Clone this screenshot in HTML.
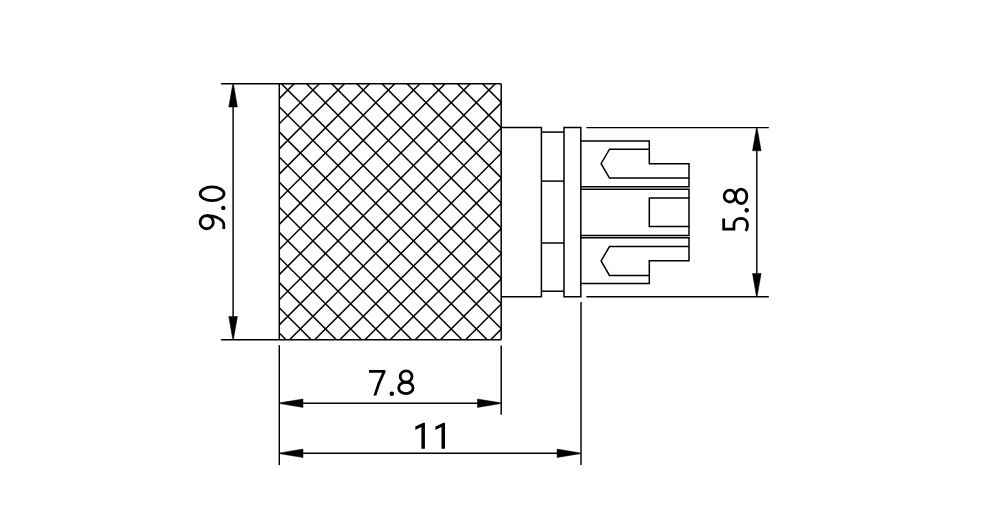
<!DOCTYPE html>
<html><head><meta charset="utf-8"><style>
html,body{margin:0;padding:0;background:#fff;width:984px;height:526px;overflow:hidden}
svg{display:block}
</style></head><body>
<svg width="984" height="526" viewBox="0 0 984 526">
<defs><clipPath id="k"><rect x="279.3" y="83.75" width="221.9" height="255.95"/></clipPath></defs>
<g clip-path="url(#k)" stroke="#000" stroke-width="1.5" fill="none">
<line x1="25.05" y1="78.75" x2="291" y2="344.7"/>
<line x1="50.19" y1="78.75" x2="316.14" y2="344.7"/>
<line x1="75.33" y1="78.75" x2="341.28" y2="344.7"/>
<line x1="100.47" y1="78.75" x2="366.42" y2="344.7"/>
<line x1="125.61" y1="78.75" x2="391.56" y2="344.7"/>
<line x1="150.75" y1="78.75" x2="416.7" y2="344.7"/>
<line x1="175.89" y1="78.75" x2="441.84" y2="344.7"/>
<line x1="201.03" y1="78.75" x2="466.98" y2="344.7"/>
<line x1="226.17" y1="78.75" x2="492.12" y2="344.7"/>
<line x1="251.31" y1="78.75" x2="517.26" y2="344.7"/>
<line x1="276.45" y1="78.75" x2="542.4" y2="344.7"/>
<line x1="301.59" y1="78.75" x2="567.54" y2="344.7"/>
<line x1="326.73" y1="78.75" x2="592.68" y2="344.7"/>
<line x1="351.87" y1="78.75" x2="617.82" y2="344.7"/>
<line x1="377.01" y1="78.75" x2="642.96" y2="344.7"/>
<line x1="402.15" y1="78.75" x2="668.1" y2="344.7"/>
<line x1="427.29" y1="78.75" x2="693.24" y2="344.7"/>
<line x1="452.43" y1="78.75" x2="718.38" y2="344.7"/>
<line x1="477.57" y1="78.75" x2="743.52" y2="344.7"/>
<line x1="502.71" y1="78.75" x2="768.66" y2="344.7"/>
<line x1="299.15" y1="78.75" x2="33.2" y2="344.7"/>
<line x1="324.29" y1="78.75" x2="58.34" y2="344.7"/>
<line x1="349.43" y1="78.75" x2="83.48" y2="344.7"/>
<line x1="374.57" y1="78.75" x2="108.62" y2="344.7"/>
<line x1="399.71" y1="78.75" x2="133.76" y2="344.7"/>
<line x1="424.85" y1="78.75" x2="158.9" y2="344.7"/>
<line x1="449.99" y1="78.75" x2="184.04" y2="344.7"/>
<line x1="475.13" y1="78.75" x2="209.18" y2="344.7"/>
<line x1="500.27" y1="78.75" x2="234.32" y2="344.7"/>
<line x1="525.41" y1="78.75" x2="259.46" y2="344.7"/>
<line x1="550.55" y1="78.75" x2="284.6" y2="344.7"/>
<line x1="575.69" y1="78.75" x2="309.74" y2="344.7"/>
<line x1="600.83" y1="78.75" x2="334.88" y2="344.7"/>
<line x1="625.97" y1="78.75" x2="360.02" y2="344.7"/>
<line x1="651.11" y1="78.75" x2="385.16" y2="344.7"/>
<line x1="676.25" y1="78.75" x2="410.3" y2="344.7"/>
<line x1="701.39" y1="78.75" x2="435.44" y2="344.7"/>
<line x1="726.53" y1="78.75" x2="460.58" y2="344.7"/>
<line x1="751.67" y1="78.75" x2="485.72" y2="344.7"/>
</g>
<g stroke="#000" fill="none" stroke-linecap="butt" stroke-linejoin="miter">
<line x1="221.1" y1="83.75" x2="501.2" y2="83.75" stroke-width="1.5"/>
<line x1="221.1" y1="339.7" x2="501.2" y2="339.7" stroke-width="1.5"/>
<line x1="279.3" y1="83.75" x2="279.3" y2="339.7" stroke-width="1.5"/>
<line x1="501.2" y1="83.75" x2="501.2" y2="339.7" stroke-width="1.5"/>
<line x1="233.1" y1="95.75" x2="233.1" y2="327.7" stroke-width="1.45"/>
<polyline points="501.2,127.6 541.4,127.6 541.4,296.65 501.2,296.65" stroke-width="1.5"/>
<line x1="541.4" y1="132.1" x2="564" y2="132.1" stroke-width="1.5"/>
<line x1="541.4" y1="291.2" x2="564" y2="291.2" stroke-width="1.5"/>
<line x1="541.4" y1="181.1" x2="564" y2="181.1" stroke-width="1.5"/>
<line x1="541.4" y1="243" x2="564" y2="243" stroke-width="1.5"/>
<polygon points="564,127.6 580.8,127.6 580.8,296.65 564,296.65" stroke-width="1.5"/>
<polyline points="580.8,141.1 649.3,141.1 649.3,163.8 689,163.8 689,186.8 580.8,186.8" stroke-width="1.5"/>
<polyline points="580.8,283.5 649.3,283.5 649.3,260.8 689,260.8 689,237.8 580.8,237.8" stroke-width="1.5"/>
<polyline points="649.3,149.2 609.5,149.2 601.1,163.7 609.5,178.1 689,178.1" stroke-width="1.5"/>
<polyline points="649.3,275.4 609.5,275.4 601.1,260.9 609.5,246.5 689,246.5" stroke-width="1.5"/>
<polyline points="580.8,189.2 689,189.2 689,235.4 580.8,235.4" stroke-width="1.5"/>
<polyline points="689,198.1 649.3,198.1 649.3,226.5 689,226.5" stroke-width="1.5"/>
<line x1="586.4" y1="127.6" x2="768.8" y2="127.6" stroke-width="1.45"/>
<line x1="586.4" y1="296.65" x2="768.8" y2="296.65" stroke-width="1.45"/>
<line x1="756.8" y1="139.6" x2="756.8" y2="284.65" stroke-width="1.45"/>
<line x1="279.3" y1="345.2" x2="279.3" y2="465.1" stroke-width="1.45"/>
<line x1="501.2" y1="345.6" x2="501.2" y2="414.7" stroke-width="1.45"/>
<line x1="581" y1="302" x2="581" y2="465.1" stroke-width="1.45"/>
<line x1="291.3" y1="403.2" x2="489.2" y2="403.2" stroke-width="1.45"/>
<line x1="291.3" y1="453.3" x2="568.8" y2="453.3" stroke-width="1.45"/>
</g>
<g fill="#000" stroke="#000" stroke-width="0.5" stroke-linejoin="round">
<polygon points="233.5,84.35 232.7,84.35 228.8,106.95 237.4,106.95"/>
<polygon points="232.7,339.1 233.5,339.1 237.4,316.5 228.8,316.5"/>
<polygon points="757.2,128.2 756.4,128.2 752.5,150.8 761.1,150.8"/>
<polygon points="756.4,296.05 757.2,296.05 761.1,273.45 752.5,273.45"/>
<polygon points="279.9,402.8 279.9,403.6 303,407.4 303,399"/>
<polygon points="500.6,403.6 500.6,402.8 477.5,399 477.5,407.4"/>
<polygon points="279.9,452.9 279.9,453.7 303,457.5 303,449.1"/>
<polygon points="580.2,453.7 580.2,452.9 557.1,449.1 557.1,457.5"/>
</g>
<g transform="translate(369.05,396)" stroke="#000" fill="none" stroke-width="2.8"><clipPath id="c7"><rect x="-5" y="-30" width="30" height="29.6"/></clipPath><path d="M0,-24.63 H15.2 Q8.95,-12.2 5.5,0.6" stroke-linejoin="round" clip-path="url(#c7)"/><circle cx="22.75" cy="-2.2" r="2.27" fill="#000" stroke="none"/><ellipse cx="37.05" cy="-19.5" rx="5.9" ry="5.7"/><ellipse cx="36.85" cy="-8.1" rx="7.2" ry="5.65"/></g>
<g transform="translate(225.3,230.1) rotate(-90)" stroke="#000" fill="none" stroke-width="2.8"><ellipse cx="7.9" cy="-18.6" rx="6.55" ry="6.6"/><path d="M14.45,-18.6 C14.45,-8 9.5,-1.5 5.5,-1.5 H1.15"/><circle cx="22.2" cy="-2" r="2.2" fill="#000" stroke="none"/><ellipse cx="36.3" cy="-13.2" rx="6.85" ry="11.95"/></g>
<g transform="translate(749.3,231.4) rotate(-90)" stroke="#000" fill="none" stroke-width="2.8"><path d="M13,-25.6 H2.3 V-15.35 H6.5 C10.5,-15.35 13.1,-12.3 13.1,-8.4 C13.1,-4.4 10.4,-1.85 6.6,-1.85 C4.1,-1.85 2.1,-2.4 0.5,-3.6"/><circle cx="21.1" cy="-2.6" r="2.2" fill="#000" stroke="none"/><ellipse cx="35.3" cy="-19.5" rx="5.9" ry="5.7"/><ellipse cx="35.1" cy="-8.1" rx="7.2" ry="5.65"/></g>
<polygon points="421.4,448.8 424.9,448.8 424.9,422.65 423.25,422.65 415.35,426.6 415.35,429.95 421.4,426.9" fill="#000"/>
<polygon points="441.5,448.8 445,448.8 445,422.65 443.35,422.65 435.45,426.6 435.45,429.95 441.5,426.9" fill="#000"/>
</svg>
</body></html>
